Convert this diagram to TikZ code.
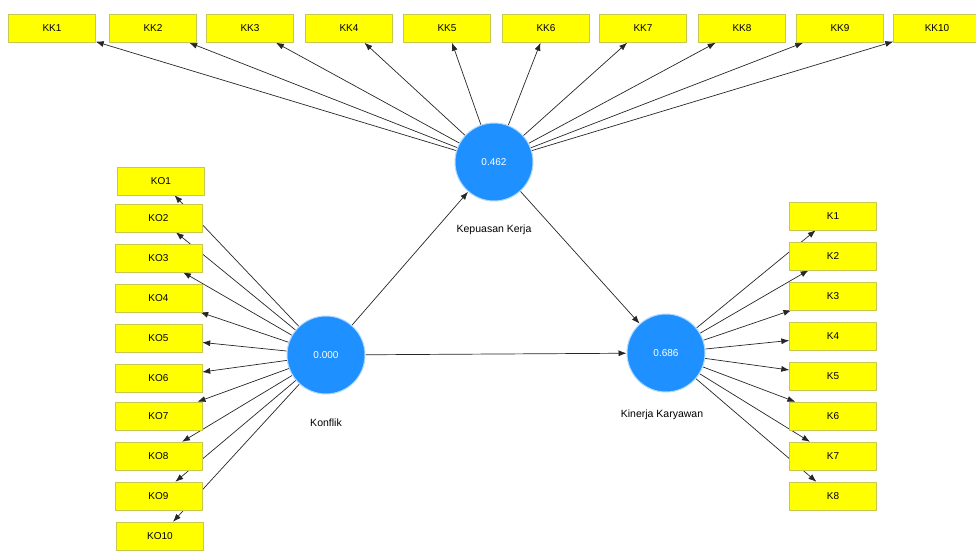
\documentclass[tikz,border=0pt]{standalone}
\usepackage{fontspec}
\setmainfont{Liberation Sans}
\usetikzlibrary{positioning,arrows.meta,backgrounds}
\definecolor{lvblue}{RGB}{30,144,255}
\definecolor{mvyellow}{RGB}{255,255,0}
\definecolor{mvedge}{RGB}{200,200,80}

\begin{document}
\begin{tikzpicture}[x=1pt,y=-1pt,
    ind/.style={rectangle, fill=mvyellow, draw=mvedge, minimum width=87pt, minimum height=28pt, inner sep=0pt, font=\fontsize{10}{12}\selectfont},
    lv/.style={circle, fill=lvblue, draw=lvblue!35, line width=1pt, minimum size=78pt, inner sep=0pt, text=white, font=\fontsize{10}{12}\selectfont},
    lvname/.style={font=\fontsize{10.5}{12}\selectfont},
    load/.style={draw=black!85, line width=0.7pt, -{Latex[length=8pt,width=6pt]}}]
    \useasboundingbox (0,0) rectangle (976,550);

    % Latent variables
    \node[lv] (kk) at (494,162) {0.462};
    \node[lv] (ko) at (326,355) {0.000};
    \node[lv] (kin) at (666,353) {0.686};

    \node[lvname, below=20pt of kk] {Kepuasan Kerja};
    \node[lvname, below=21pt of ko] {Konflik};
    \node[lvname, below=14pt of kin, xshift=-4pt] {Kinerja Karyawan};

    % Indicators of Kepuasan Kerja
    \node[ind] (KK1) at (52,28.5) {KK1};
    \node[ind] (KK2) at (153,28.5) {KK2};
    \node[ind] (KK3) at (250,28.5) {KK3};
    \node[ind] (KK4) at (349,28.5) {KK4};
    \node[ind] (KK5) at (447,28.5) {KK5};
    \node[ind] (KK6) at (546,28.5) {KK6};
    \node[ind] (KK7) at (643,28.5) {KK7};
    \node[ind] (KK8) at (742,28.5) {KK8};
    \node[ind] (KK9) at (840,28.5) {KK9};
    \node[ind] (KK10) at (937,28.5) {KK10};

    % Indicators of Konflik
    \node[ind] (KO1) at (161,181) {KO1};
    \node[ind] (KO2) at (158.5,218) {KO2};
    \node[ind] (KO3) at (158.5,258) {KO3};
    \node[ind] (KO4) at (158.5,298) {KO4};
    \node[ind] (KO5) at (158.5,338) {KO5};
    \node[ind] (KO6) at (158.5,378) {KO6};
    \node[ind] (KO7) at (158.5,416) {KO7};
    \node[ind] (KO8) at (158.5,456) {KO8};
    \node[ind] (KO9) at (158.5,496) {KO9};
    \node[ind] (KO10) at (160,536) {KO10};

    % Indicators of Kinerja Karyawan
    \node[ind] (K1) at (833,216) {K1};
    \node[ind] (K2) at (833,256) {K2};
    \node[ind] (K3) at (833,296) {K3};
    \node[ind] (K4) at (833,336) {K4};
    \node[ind] (K5) at (833,376) {K5};
    \node[ind] (K6) at (833,416) {K6};
    \node[ind] (K7) at (833,456) {K7};
    \node[ind] (K8) at (833,496) {K8};

    % Paths
    \begin{scope}[on background layer]
        \foreach \i in {1,...,10} \draw[load] (kk) -- (KK\i);
        \foreach \i in {1,...,10} \draw[load] (ko) -- (KO\i);
        \foreach \i in {1,...,8} \draw[load] (kin) -- (K\i);
        \draw[load] (ko) -- (kk);
        \draw[load] (ko) -- (kin);
        \draw[load] (kk) -- (kin);
    \end{scope}
\end{tikzpicture}
\end{document}
